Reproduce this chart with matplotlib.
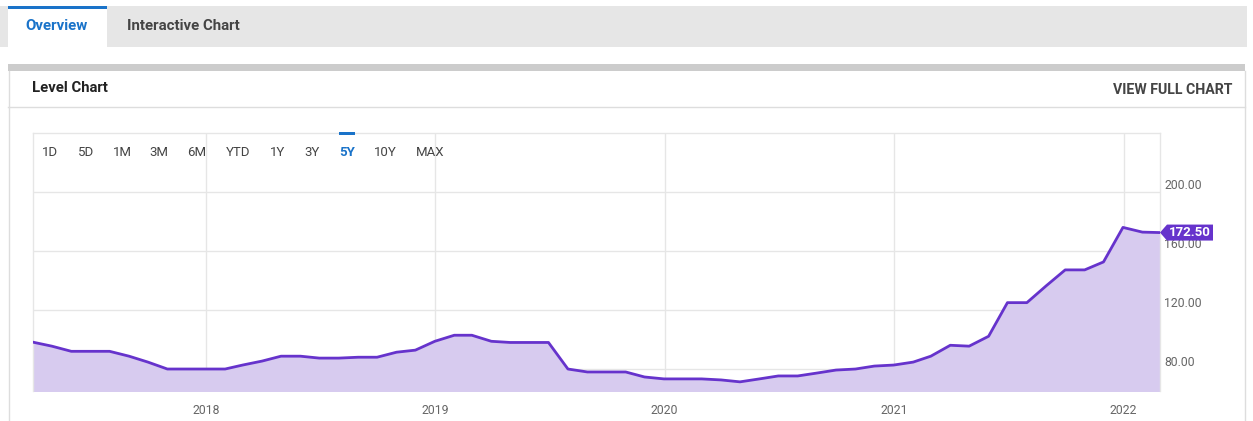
import numpy as np
import pandas as pd
import matplotlib
matplotlib.use("Agg")
import matplotlib.pyplot as plt
import matplotlib.dates as mdates
from matplotlib.patches import Rectangle, Polygon
from matplotlib.lines import Line2D

plt.rcParams['font.family'] = ['Roboto', 'DejaVu Sans']

# monthly values, month ends Mar 2017 .. Feb 2022
dates = pd.date_range('2017-03-31', periods=60, freq='ME')
values = [
    98.2, 95.5, 92.0, 92.0, 92.0, 88.7, 84.7, 80.0, 80.0, 80.0,
    80.0, 82.7, 85.4, 88.7, 88.7, 87.4, 87.4, 88.0, 88.0, 91.4,
    92.8, 98.8, 102.9, 102.9, 98.8, 98.0, 98.0, 98.0, 80.0, 78.0,
    78.0, 78.0, 74.6, 73.3, 73.3, 73.3, 72.6, 71.3, 73.3, 75.3,
    75.3, 77.3, 79.3, 80.0, 82.0, 82.7, 84.7, 88.7, 96.1, 95.5,
    102.2, 125.0, 125.0, 136.5, 147.2, 147.2, 152.6, 176.0, 172.8, 172.5,
]
last_label = '172.50'
y_ticks = [80, 120, 160, 200]
year_ticks = ['2018', '2019', '2020', '2021', '2022']
range_buttons = ['1D', '5D', '1M', '3M', '6M', 'YTD', '1Y', '3Y', '5Y', '10Y', 'MAX']
selected_range = '5Y'

W, H = 1253, 421
LINE = '#6633cc'
FILL = '#d7cbef'
GRID = '#e6e6e6'
BLUE = '#1a73c9'


def fx(px):
    return px / W


def fy(py):
    return 1 - py / H


def rect(fig, x0, y0, x1, y1, **kw):
    fig.patches.append(Rectangle((fx(x0), fy(y1)), fx(x1) - fx(x0), fy(y0) - fy(y1),
                                 transform=fig.transFigure, **kw))


def hline(fig, x0, x1, y, **kw):
    fig.lines.append(Line2D([fx(x0), fx(x1)], [fy(y), fy(y)], transform=fig.transFigure, **kw))


def vline(fig, x, y0, y1, **kw):
    fig.lines.append(Line2D([fx(x), fx(x)], [fy(y0), fy(y1)], transform=fig.transFigure, **kw))


fig = plt.figure(figsize=(W / 100, H / 100), dpi=100)
fig.patch.set_facecolor('white')

# tab bar
rect(fig, 0, 6, 1247, 47, facecolor='#e6e6e6', edgecolor='none', zorder=0)
rect(fig, 8, 6, 107, 47, facecolor='white', edgecolor='none', zorder=1)
rect(fig, 8, 6, 107, 9, facecolor=BLUE, edgecolor='none', zorder=2)
fig.text(fx(57), fy(26), 'Overview', color=BLUE, fontsize=10.8, fontweight='bold',
         ha='center', va='center')
fig.text(fx(183), fy(26), 'Interactive Chart', color='#444444', fontsize=10.8,
         fontweight='bold', ha='center', va='center')

# panel
rect(fig, 8, 64, 1245, 71, facecolor='#cccccc', edgecolor='none', zorder=0)
vline(fig, 8.5, 71, 421, color='#dddddd', lw=1)
vline(fig, 1244.5, 71, 421, color='#dddddd', lw=1)
hline(fig, 8, 1245, 107, color='#dddddd', lw=1)
fig.text(fx(32), fy(88), 'Level Chart', color='#222222', fontsize=10.7,
         fontweight='bold', ha='left', va='center')
fig.text(fx(1232), fy(90), 'VIEW FULL CHART', color='#444444', fontsize=10.2,
         fontweight='bold', ha='right', va='center')

# plot area
left, right, top, bottom = 33, 1160, 133, 391
ax = fig.add_axes([fx(left), fy(bottom), fx(right) - fx(left), fy(top) - fy(bottom)])
ax.set_facecolor('none')

ax.fill_between(dates, values, 0, color=FILL, lw=0, zorder=2)
ax.plot(dates, values, color=LINE, lw=2, zorder=3, solid_joinstyle='round')

ax.set_ylim(65.1, 240)
ax.set_xlim(pd.Timestamp('2017-03-31'), pd.Timestamp('2022-02-28'))

year_dates = [pd.Timestamp(y + '-01-01') for y in year_ticks]
ax.set_xticks(year_dates)
ax.set_xticklabels(year_ticks)
ax.set_yticks(y_ticks)
ax.set_yticklabels([f'{v:.2f}' for v in y_ticks])
ax.yaxis.tick_right()
ax.tick_params(axis='both', length=0, labelsize=8.8, labelcolor='#666666')
ax.tick_params(axis='x', pad=9)
ax.tick_params(axis='y', pad=3)
for lab in ax.get_yticklabels():
    lab.set_va('bottom')
ax.grid(True, color=GRID, lw=1, zorder=1)
ax.set_axisbelow(True)
for side in ['top', 'left', 'right']:
    ax.spines[side].set_color(GRID)
    ax.spines[side].set_linewidth(1)
ax.spines['bottom'].set_visible(False)

# range selector buttons
btn_x = [50, 86, 122, 159, 197, 238, 278, 312, 347, 385, 430]
for lbl, bx in zip(range_buttons, btn_x):
    sel = lbl == selected_range
    fig.text(fx(bx), fy(152), lbl, color=BLUE if sel else '#444444', fontsize=9.5,
             fontweight='bold' if sel else 'normal', ha='center', va='center')
    if sel:
        rect(fig, bx - 8, 132, bx + 8, 135, facecolor=BLUE, edgecolor='none', zorder=5)

# last value flag
yl = ax.transData.transform((0, values[-1]))[1]
ly = H - yl
flag = Polygon([(fx(1160), fy(ly)), (fx(1167), fy(ly - 8)), (fx(1213), fy(ly - 8)),
                (fx(1213), fy(ly + 8)), (fx(1167), fy(ly + 8))],
               closed=True, transform=fig.transFigure, facecolor=LINE, edgecolor='none', zorder=6)
fig.patches.append(flag)
fig.text(fx(1190), fy(ly), last_label, color='white', fontsize=9.5, fontweight='bold',
         ha='center', va='center', zorder=7)

fig.savefig('out.png', dpi=100)
